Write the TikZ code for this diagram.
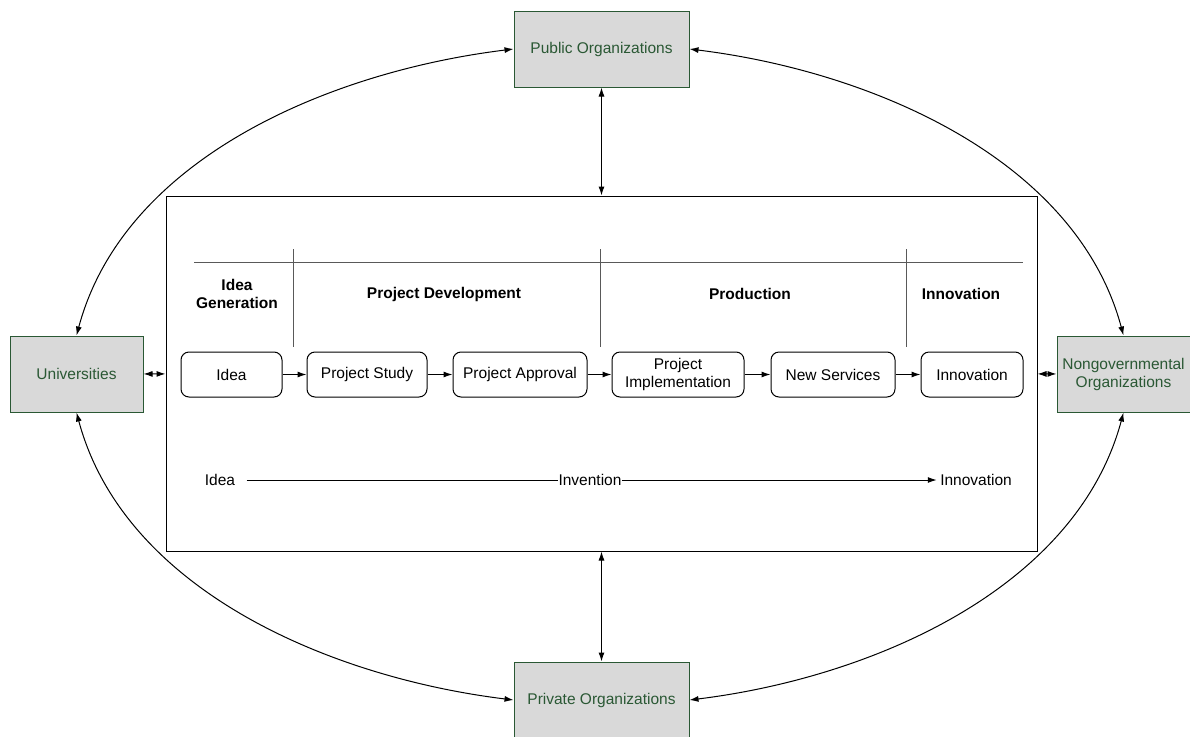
\documentclass[tikz,border=0pt]{standalone}
\usepackage{fontspec}
\setmainfont{Liberation Sans}
\usetikzlibrary{arrows.meta}
\usetikzlibrary{positioning}
\definecolor{orggreen}{RGB}{42,88,52}
\definecolor{orgfill}{RGB}{217,217,217}
\tikzset{
  every node/.style={font=\fontsize{15.5}{18}\selectfont},
  org/.style={draw=orggreen,fill=orgfill,text=orggreen,align=center,minimum height=76pt},
  stage/.style={draw,rounded corners=8pt,minimum height=45pt,align=center,inner sep=2pt},
  phase/.style={font=\fontsize{15.5}{18}\selectfont\bfseries,align=center},
  divider/.style={draw=black!65},
}

\begin{document}
\begin{tikzpicture}[x=1pt,y=1pt,line width=1pt,>={Latex[length=9pt,width=6pt]}]
      \useasboundingbox (0,0) rectangle (1190,-736);

      \node[org,minimum width=175pt] (pub) at (601.5,-49) {Public Organizations};
      \node[org,minimum width=133pt] (univ) at (76.5,-374) {Universities};
      \node[org,minimum width=133pt] (ngo) at (1123.5,-374) {Nongovernmental\\Organizations};
      \node[org,minimum width=175pt] (priv) at (601.5,-700) {Private Organizations};

      \node[draw,minimum width=871pt,minimum height=355pt] (frame) at (601.5,-373.5) {};

      % phases
      \draw[divider] (194,-262) -- (1023,-262);
      \draw[divider] (293,-249) -- (293,-347);
      \draw[divider] (600,-249) -- (600,-347);
      \draw[divider] (906,-249) -- (906,-347);
      \node[phase] (genhead) at (237,-294) {Idea\\Generation};
      \node[phase] (devhead) at (444,-294) {Project Development};
      \node[phase] (prodhead) at (750,-294) {Production};
      \node[phase] (innohead) at (961,-294) {Innovation};

      % process
      \node[stage,minimum width=101pt] (idea) at (231.5,-374.5) {Idea};
      \node[stage,minimum width=120pt,right=24pt of idea] (study) {Project Study};
      \node[stage,minimum width=134pt,right=25pt of study] (approval) {Project Approval};
      \node[stage,minimum width=132pt,right=24pt of approval] (impl) {Project\\Implementation};
      \node[stage,minimum width=124pt,right=26pt of impl] (services) {New Services};
      \node[stage,minimum width=102pt,right=25pt of services] (innov) {Innovation};

      \path[->] (idea) edge (study);
      \path[->] (study) edge (approval);
      \path[->] (approval) edge (impl);
      \path[->] (impl) edge (services);
      \path[->] (services) edge (innov);

      % idea to innovation
      \node[inner sep=0pt] (ideaend) at (220,-480) {Idea};
      \node[inner sep=0pt] (invent) at (590,-480) {Invention};
      \node[inner sep=0pt] (innovend) at (976,-480) {Innovation};
      \draw[shorten <=11pt] (ideaend) -- (invent);
      \draw[->,shorten >=3pt] (invent) -- (innovend);

      % links to the frame
      \path[<->] (pub) edge (frame);
      \path[<->] (frame) edge (priv);
      \path[<->] (univ) edge (frame);
      \path[<->] (frame) edge (ngo);

      % outer ring
      \draw[<->] (pub.west) to[out=187,in=75,looseness=0.9] (univ.north);
      \draw[<->] (univ.south) to[out=-75,in=173,looseness=0.9] (priv.west);
      \draw[<->] (priv.east) to[out=7,in=255,looseness=0.9] (ngo.south);
      \draw[<->] (ngo.north) to[out=105,in=-7,looseness=0.9] (pub.east);
\end{tikzpicture}
\end{document}
